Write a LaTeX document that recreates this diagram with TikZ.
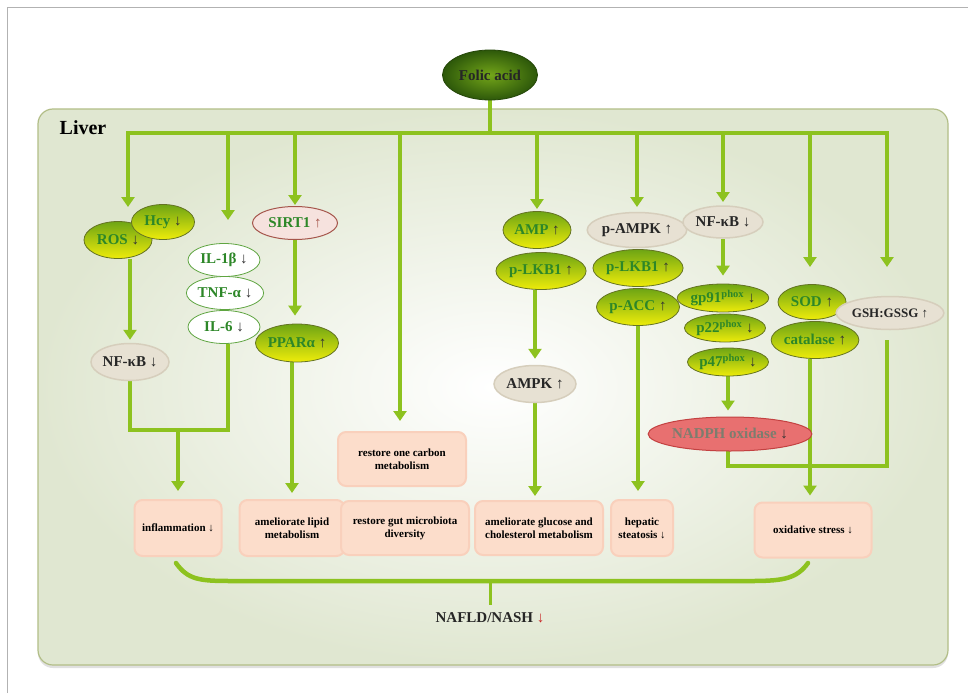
\documentclass[tikz,border=0pt]{standalone}
\usepackage{fontspec}
\setmainfont{Liberation Serif}
\usetikzlibrary{shapes.geometric,arrows.meta}
\definecolor{lg}{RGB}{141,194,31}
\definecolor{gtop}{RGB}{110,165,20}
\definecolor{gbot}{RGB}{238,236,10}
\definecolor{gtxt}{RGB}{45,135,40}
\definecolor{gbrd}{RGB}{100,115,35}
\definecolor{bfill}{RGB}{231,225,211}
\definecolor{bbrd}{RGB}{214,206,188}
\definecolor{pfill}{RGB}{252,221,203}
\definecolor{pbrd}{RGB}{249,208,188}
\definecolor{wbrd}{RGB}{95,165,65}
\definecolor{sfill}{RGB}{246,226,222}
\definecolor{sbrd}{RGB}{165,85,75}
\definecolor{nfill}{RGB}{232,112,112}
\definecolor{nbrd}{RGB}{195,65,65}
\definecolor{ntxt}{RGB}{125,125,110}
\definecolor{lvbrd}{RGB}{178,190,135}
\definecolor{lvout}{RGB}{224,231,209}
\definecolor{fin}{RGB}{115,165,25}
\definecolor{fout}{RGB}{45,88,10}
\definecolor{arrred}{RGB}{200,40,40}
\pgfdeclarelayer{back}
\pgfdeclarelayer{bg}
\pgfsetlayers{back,bg,main}
\begin{document}
\begin{tikzpicture}[x=1pt,y=-1pt,
  conn/.style={draw=lg,line width=4.5pt},
  arr/.style={conn,-{Triangle[length=10pt,width=13pt]}},
  lbl/.style={font=\fontsize{15}{17}\selectfont\bfseries},
  ell/.style 2 args={ellipse,inner sep=0pt,minimum width=#1pt,minimum height=#2pt,lbl},
  gell/.style={draw=gbrd,line width=0.8pt,top color=gtop,bottom color=gbot,text=gtxt},
  bell/.style={draw=bbrd,line width=1.5pt,fill=bfill,text=black!85},
  well/.style={draw=wbrd,line width=0.8pt,fill=white,text=gtxt},
  boxn/.style 2 args={rectangle,rounded corners=8pt,draw=pbrd,line width=2pt,fill=pfill,minimum width=#1pt,minimum height=#2pt,align=center,inner sep=1pt,font=\fontsize{11}{13}\selectfont\bfseries}
]
\useasboundingbox (0,0) rectangle (968,693);
\begin{pgfonlayer}{back}
\fill[white] (0,0) rectangle (968,693);
\draw[gray!60,line width=0.8pt] (7,693) -- (7,7) -- (968,7);
\fill[black!12,rounded corners=15pt] (38,112) rectangle (948,668);
\shade[inner color=white,outer color=lvout,draw=lvbrd,line width=1.2pt,rounded corners=15pt] (38,109) rectangle (948,665);
\end{pgfonlayer}

\node[font=\fontsize{20}{22}\selectfont\bfseries] (liver) at (83,128) {Liver};

% top
\node[ellipse,inner sep=0pt,minimum width=95pt,minimum height=50pt,inner color=fin,outer color=fout,draw=fout!80!black,line width=0.8pt,font=\fontsize{15}{17}\selectfont\bfseries,text=black!85] (fa) at (490,75) {Folic acid};

% column 1
\node[ell={68}{37},gell] (ros) at (118,240) {ROS \textcolor{black!80}{↓}};
\node[ell={63}{35},gell] (hcy) at (163,222) {Hcy \textcolor{black!80}{↓}};
\node[ell={78}{37},bell] (nfl) at (130,362) {NF-κB ↓};
% column 2
\node[ell={72}{33},well] (il1) at (224,260) {IL-1β \textcolor{black!80}{↓}};
\node[ell={72}{33},well] (tnf) at (225,293) {TNF-α \textcolor{black!80}{↓}};
\node[ell={72}{33},well] (il6) at (224,327) {IL-6 \textcolor{black!80}{↓}};
% column 3
\node[ell={85}{33},draw=sbrd,line width=1pt,fill=sfill,text=gtxt] (sirt) at (295,223) {SIRT1 \textcolor{sbrd}{↑}};
\node[ell={83}{38},gell] (ppar) at (297,343) {PPARα \textcolor{black!80}{↑}};
% column 5
\node[ell={68}{37},gell] (amp) at (537,230) {AMP \textcolor{black!80}{↑}};
\node[ell={82}{37},gell] (lkba) at (541,271) {p-LKB1 \textcolor{black!80}{↑}};
\node[ell={82}{37},bell] (ampk) at (535,384) {AMPK ↑};
% column 6
\node[ell={84}{35},bell] (pampk) at (637,230) {p-AMPK ↑};
\node[ell={83}{37},gell] (lkbb) at (638,268) {p-LKB1 \textcolor{black!80}{↑}};
\node[ell={83}{37},gell] (pacc) at (638,307) {p-ACC \textcolor{black!80}{↑}};
% column 7
\node[ell={80}{32},bell] (nfr) at (723,222) {NF-κB ↓};
\node[ell={83}{28},gell] (gp91) at (723,298) {gp91\textsuperscript{phox} \textcolor{black!80}{↓}};
\node[ell={80}{28},gell] (p22) at (725,328) {p22\textsuperscript{phox} \textcolor{black!80}{↓}};
\node[ell={80}{28},gell] (p47) at (728,362) {p47\textsuperscript{phox} \textcolor{black!80}{↓}};
\node[ell={150}{34},draw=nbrd,line width=1pt,fill=nfill,text=ntxt] (nadph) at (730,434) {NADPH oxidase \textcolor{black!80}{↓}};
% column 8/9
\node[ell={68}{35},gell] (sod) at (812,302) {SOD \textcolor{black!80}{↑}};
\node[ell={82}{37},gell] (cat) at (815,340) {catalase \textcolor{black!80}{↑}};
\node[ell={93}{33},bell,font=\fontsize{13}{15}\selectfont\bfseries] (gsh) at (890,313) {GSH:GSSG ↑};

% outcome boxes
\node[boxn={87}{56}] (binf) at (178,528) {inflammation ↓};
\node[boxn={105}{56}] (blip) at (292,528) {ameliorate lipid\\metabolism};
\node[boxn={128}{54}] (bone) at (402,459) {restore one carbon\\metabolism};
\node[boxn={128}{54}] (bgut) at (405,528) {restore gut microbiota\\diversity};
\node[boxn={128}{54}] (bglu) at (539,528) {ameliorate glucose and\\cholesterol metabolism};
\node[boxn={62}{56}] (bhep) at (642,528) {hepatic\\steatosis ↓};
\node[boxn={117}{55}] (boxi) at (813,530) {oxidative stress ↓};

\node[font=\fontsize{15}{17}\selectfont\bfseries,text=black!85] (nafld) at (490,618) {NAFLD/NASH \textcolor{arrred}{↓}};

% coordinates
\coordinate (hub) at (490,133);
\coordinate (hl) at (128,133);
\coordinate (hr) at (887,133);
\foreach \n/\x in {1/128,2/228,3/295,4/400,5/537,6/637,7/723,8/810,9/887}{
  \coordinate (b\n) at (\x,133);
}
\coordinate (t1) at (128,207);
\coordinate (t2) at (228,220);
\coordinate (t3) at (295,205);
\coordinate (t4) at (400,421);
\coordinate (t5) at (537,209);
\coordinate (t6) at (637,207);
\coordinate (t7) at (723,202);
\coordinate (t8) at (810,267);
\coordinate (t9) at (887,267);
\coordinate (jl) at (130,430);
\coordinate (jr) at (228,430);
\coordinate (jm) at (178,430);
\coordinate (nd) at (728,466);
\coordinate (gd) at (887,466);
\coordinate (brl) at (176,563);
\coordinate (brr) at (808,563);
\coordinate (bm) at (490,581);

\begin{pgfonlayer}{bg}
\draw[conn] (fa) -- (hub);
\draw[conn,line cap=rect] (hl) -- (hr);
\foreach \n in {1,...,9}{ \draw[arr] (b\n) -- (t\n); }
% column 1/2 to inflammation
\draw[arr] (ros.south -| nfl) -- ([yshift=3pt]nfl.north);
\draw[conn] (nfl.south) -- (jl);
\draw[conn] (il6.south -| jr) -- (jr);
\draw[conn,line cap=rect] (jl) -- (jr);
\draw[arr] (jm) -- ([yshift=8pt]binf.north);
% column 3
\draw[arr] (sirt) -- ([yshift=8pt]ppar.north -| sirt);
\draw[arr] (ppar.south -| blip) -- ([yshift=6pt]blip.north);
% column 5
\draw[arr] (lkba.south -| ampk) -- ([yshift=6pt]ampk.north);
\draw[arr] (ampk) -- ([yshift=4pt]bglu.north -| ampk);
% column 6
\draw[arr] (pacc.south -| pacc) -- ([yshift=8pt]bhep.north -| pacc);
% column 7
\draw[arr] (nfr) -- ([yshift=8pt]gp91.north);
\draw[arr] (p47) -- ([yshift=6pt]nadph.north -| p47);
\draw[conn,line cap=rect] (nadph.south -| nd) -- (nd) -- (gd) -- ([yshift=-12pt]gsh.south -| gd);
% column 8
\draw[arr] (cat.south -| b8) -- ([yshift=6pt]boxi.north -| b8);
% brace
\draw[conn,line cap=round] (brl) .. controls (188,580) and (200,581) .. (232,581) -- (752,581) .. controls (785,581) and (797,578) .. (brr);
\draw[conn,line width=3pt] (bm) -- ([yshift=4pt]nafld.north);
\end{pgfonlayer}
\end{tikzpicture}
\end{document}
